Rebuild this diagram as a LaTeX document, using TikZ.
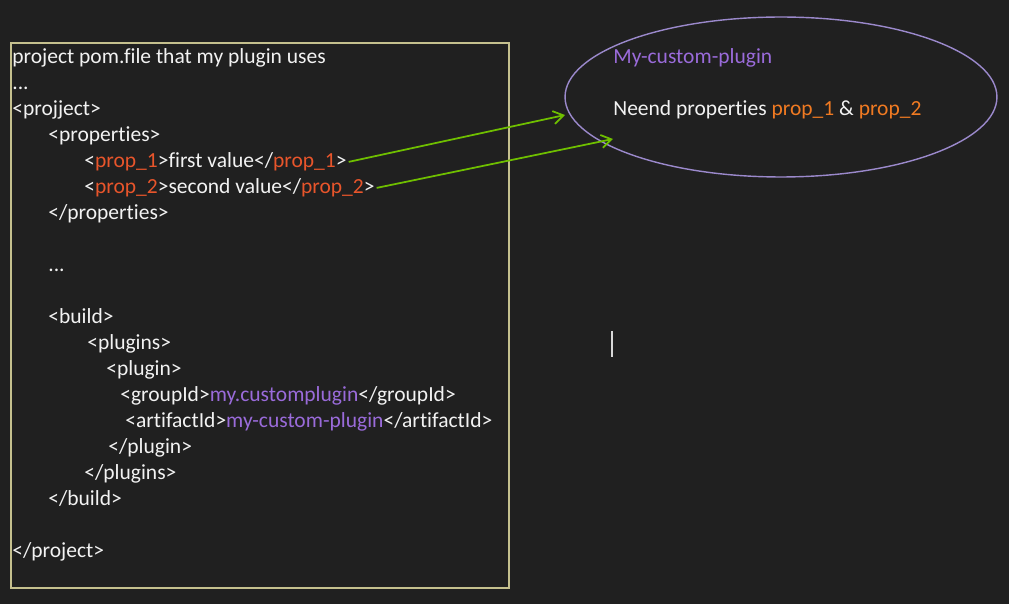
\documentclass[tikz,border=0pt]{standalone}
\usepackage{fontspec}
\setmainfont{Carlito}[Ligatures={NoCommon}]
\usepackage{xcolor}
\usepackage{tikz}
\usetikzlibrary{shapes.geometric,arrows.meta}

\definecolor{bgdark}{HTML}{202020}
\definecolor{textwhite}{HTML}{F2F2F2}
\definecolor{propred}{HTML}{E8552B}
\definecolor{propamber}{HTML}{F07A22}
\definecolor{idpurple}{HTML}{9A6BDA}
\definecolor{arrowgreen}{HTML}{6FBF00}
\definecolor{ovallilac}{HTML}{9B89CC}
\definecolor{boxkhaki}{HTML}{C5C08E}
\definecolor{cursorgrey}{HTML}{D8D8D8}

\tikzset{
  code/.style={anchor=base west, inner sep=0pt, text=textwhite},
  link/.style={draw=arrowgreen, line width=1pt, -{Straight Barb[length=2mm,width=2.6mm]}, shorten <=1pt},
}

\begin{document}
\begin{tikzpicture}[x=0.02cm, y=-0.02cm, font=\fontsize{12.25pt}{14pt}\selectfont]
  % Background
  \fill [bgdark] (0,0) rectangle (1009,604);
  % Box for pom file
  \draw [boxkhaki, line width=0.9pt] (11,43) rectangle (509,588);

  % Nodes for pom file
  \node [code] (title) at (12,64) {project pom.file that my plugin uses};
  \node [code] (dotsone) at (12,90) {...};
  \node [code] (project) at (12,116) {<projject>};
  \node [code] (props) at (48,142) {<properties>};
  \node [code] (propone) at (84,168) {<\textcolor{propred}{prop\_1}>first value</\textcolor{propred}{prop\_1}>};
  \node [code] (proptwo) at (84,194) {<\textcolor{propred}{prop\_2}>second value</\textcolor{propred}{prop\_2}>};
  \node [code] (propsend) at (48,220) {</properties>};
  \node [code] (dotstwo) at (48,272) {...};
  \node [code] (build) at (48,324) {<build>};
  \node [code] (plugins) at (87,350) {<plugins>};
  \node [code] (plugin) at (106,376) {<plugin>};
  \node [code] (groupid) at (120,402) {<groupId>\textcolor{idpurple}{my.customplugin}</groupId>};
  \node [code] (artifactid) at (125,428) {<artifactId>\textcolor{idpurple}{my-custom-plugin}</artifactId>};
  \node [code] (pluginend) at (108,454) {</plugin>};
  \node [code] (pluginsend) at (84,480) {</plugins>};
  \node [code] (buildend) at (48,506) {</build>};
  \node [code] (projectend) at (12,558) {</project>};

  % Nodes for plugin
  \node [draw=ovallilac, ellipse, line width=0.8pt, minimum width=8.64cm, minimum height=3.2cm, inner sep=0pt] (customplugin) at (781,97) {};
  \node [code] (pluginname) at (613,64) {\textcolor{idpurple}{My-custom-plugin}};
  \node [code] (needprops) at (613,116) {Neend properties \textcolor{propamber}{prop\_1} \& \textcolor{propamber}{prop\_2}};

  % Arrows for properties
  \coordinate (tipone) at (565,115);
  \coordinate (tiptwo) at (613,139);
  \draw [link] (propone.east) -- (tipone);
  \draw [link] (proptwo.east) -- (tiptwo);

  % Cursor
  \draw [cursorgrey, line width=0.8pt] (612,331) -- (612,357);
\end{tikzpicture}
\end{document}
